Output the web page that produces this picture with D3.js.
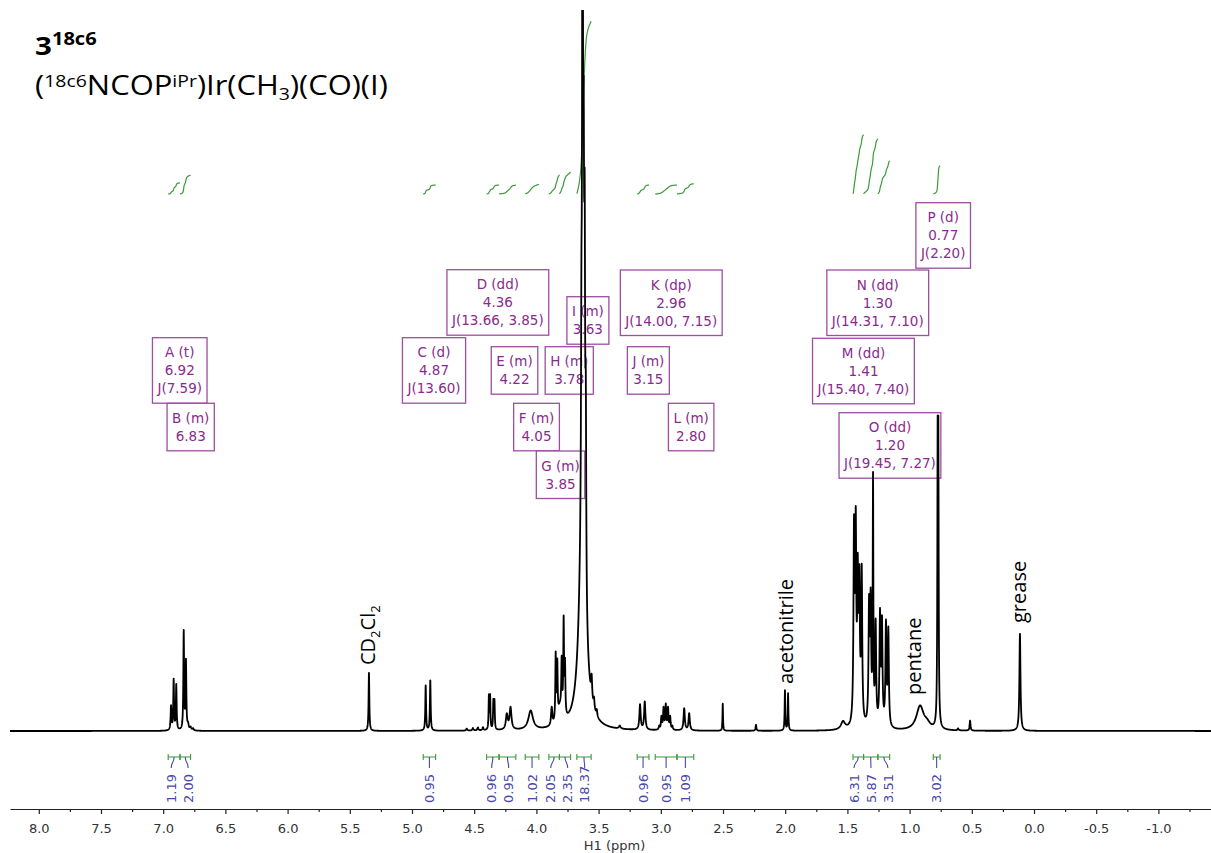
<!DOCTYPE html>
<html>
<head>
<meta charset="utf-8">
<script src="https://cdn.jsdelivr.net/npm/d3@7"></script>
<style>
  html, body { margin: 0; padding: 0; background: #fff; }
  svg { display: block; }
</style>
</head>
<body>
<svg id="chart" width="1211" height="853"></svg>
<script>
// ---------------- Data ----------------
// Resonance lines: chemical shift (ppm), height (intensity units), half-width at half-height (ppm)
const peakShift = [
  6.937, 6.916, 6.895, 6.835, 6.817, 6.800, 6.780, 6.760,
  5.346,
  4.890, 4.853,
  4.560, 4.510, 4.470, 4.430,
  4.382, 4.372, 4.346, 4.337,
  4.238, 4.208,
  4.046,
  3.877, 3.845, 3.832, 3.810,
  3.797, 3.781, 3.770,
  3.638, 3.629, 3.620, 3.612, 3.603, 3.630,
  3.556, 3.537, 3.515,
  3.330,
  3.167, 3.129,
  3.013, 2.995, 2.978, 2.960, 2.942, 2.925, 2.907,
  2.812, 2.772,
  2.502, 2.235,
  2.002, 1.977,
  1.535,
  1.447, 1.433, 1.417, 1.404, 1.385,
  1.326, 1.313, 1.294, 1.273,
  1.238, 1.222, 1.190, 1.171,
  0.916, 0.860,
  0.7745, 0.7690,
  0.610, 0.514, 0.113
];
const peakHeight = [
  24, 50, 45, 98, 68, 5, 3, 2,
  58,
  45, 50,
  2, 2.5, 3, 3,
  33, 33, 28, 28,
  15, 22,
  19,
  18, 66, 54, 17,
  50, 94, 50,
  170, 760, 300, 290, 170, 200,
  22, 10, 6,
  3,
  25, 28,
  3.5, 12.5, 21, 24, 21, 12.5, 3.5,
  22, 17,
  27, 6,
  40, 37,
  8,
  188, 185, 135, 130, 150,
  115, 118, 240, 100,
  108, 100, 100, 95,
  24, 5,
  255, 255,
  2, 10, 97
];
const peakWidth = [
  0.004, 0.0035, 0.0035, 0.0035, 0.0035, 0.006, 0.006, 0.006,
  0.0035,
  0.0035, 0.0035,
  0.005, 0.005, 0.005, 0.005,
  0.003, 0.003, 0.003, 0.003,
  0.009, 0.009,
  0.022,
  0.006, 0.0035, 0.0035, 0.02,
  0.0035, 0.0035, 0.0035,
  0.004, 0.0035, 0.004, 0.004, 0.004, 0.03,
  0.005, 0.005, 0.005,
  0.008,
  0.006, 0.006,
  0.0045, 0.0045, 0.0045, 0.0045, 0.0045, 0.0045, 0.0045,
  0.006, 0.006,
  0.0025, 0.004,
  0.003, 0.003,
  0.02,
  0.005, 0.005, 0.005, 0.005, 0.005,
  0.005, 0.005, 0.003, 0.005,
  0.005, 0.005, 0.005, 0.005,
  0.035, 0.03,
  0.003, 0.003,
  0.005, 0.004, 0.005
];

// Integration regions (ppm, left to right) and their integrals
const integralFrom  = [6.96, 6.865, 4.91, 4.40, 4.30, 4.09, 3.90, 3.815, 3.675, 3.19, 3.045, 2.87, 1.455, 1.37, 1.255, 0.81];
const integralTo    = [6.865, 6.78, 4.81, 4.30, 4.165, 3.98, 3.815, 3.725, 3.56, 3.095, 2.87, 2.735, 1.37, 1.255, 1.16, 0.755];
const integralValue = [1.19, 2.00, 0.95, 0.96, 0.95, 1.02, 2.05, 2.35, 18.37, 0.96, 0.95, 1.09, 6.31, 5.87, 3.51, 3.02];

// Multiplet analysis
const multipletName  = ["A", "B", "C", "D", "E", "F", "G", "H", "I", "J", "K", "L", "M", "N", "O", "P"];
const multipletType  = ["t", "m", "d", "dd", "m", "m", "m", "m", "m", "m", "dp", "m", "dd", "dd", "dd", "d"];
const multipletShift = [6.92, 6.83, 4.87, 4.36, 4.22, 4.05, 3.85, 3.78, 3.63, 3.15, 2.96, 2.80, 1.41, 1.30, 1.20, 0.77];
const multipletJ     = [[7.59], [], [13.60], [13.66, 3.85], [], [], [], [], [], [], [14.00, 7.15], [], [15.40, 7.40], [14.31, 7.10], [19.45, 7.27], [2.20]];

// Solvent / impurity labels
const solventNames = ["CD2Cl2", "acetonitrile", "pentane", "grease"];
const solventShift = [5.346, 1.990, 0.916, 0.113];

// Axis ticks
const majorTicks = [8.0, 7.5, 7.0, 6.5, 6.0, 5.5, 5.0, 4.5, 4.0, 3.5, 3.0, 2.5, 2.0, 1.5, 1.0, 0.5, 0.0, -0.5, -1.0];
const minorTicks = [7.75, 7.25, 6.75, 6.25, 5.75, 5.25, 4.75, 4.25, 3.75, 3.25, 2.75, 2.25, 1.75, 1.25, 0.75, 0.25, -0.25, -0.75, -1.25];

// ---------------- Layout ----------------
const W = 1211, H = 853;
const baseY = 731, axisY = 809;
const x = d3.scaleLinear().domain([8.2315, -1.4228]).range([10, 1211]);
const y = d3.scaleLinear().domain([0, 721]).range([baseY, 10]);
const yInt = d3.scaleLinear().domain([0, 20]).range([194, 194 - 188]);

// Annotation box placement: centre (ppm) and top edge
const boxPlacement = {
  A: [6.867, 337.7], B: [6.779, 403.3], C: [4.823, 337.7], D: [4.310, 269.7],
  E: [4.176, 346.7], F: [3.999, 403.3], G: [3.806, 451.0], H: [3.736, 346.7],
  I: [3.586, 296.7], J: [3.100, 346.7], K: [2.916, 270.0], L: [2.756, 403.3],
  M: [1.371, 338.3], N: [1.256, 270.0], O: [1.158, 412.7], P: [0.730, 202.7]
};
const solventBaseline = { "CD2Cl2": [375, 665], "acetonitrile": [793, 684], "pentane": [921, 695], "grease": [1026, 623] };

const svg = d3.select("#chart");
svg.append("rect").attr("width", W).attr("height", H).attr("fill", "#fff");

// Sum of Lorentzian lines
function intensity(p) {
  let s = 0;
  for (let i = 0; i < peakShift.length; i++) {
    const d = (p - peakShift[i]) / peakWidth[i];
    s += peakHeight[i] / (1 + d * d);
  }
  return s;
}

// ---------------- Title ----------------
const title1 = svg.append("text").attr("font-family", "Open Sans").attr("font-weight", "bold").attr("fill", "#000");
title1.append("tspan").attr("font-size", 25).text("3");
title1.append("tspan").attr("font-size", 17).attr("dy", -10).text("18c6");
const title2 = svg.append("text").attr("font-family", "Open Sans").attr("fill", "#000").attr("font-size", 27);
title2.append("tspan").text("(");
title2.append("tspan").attr("font-size", 17).attr("dy", -8).text("18c6");
title2.append("tspan").attr("dy", 8).text("NCOP");
title2.append("tspan").attr("font-size", 17).attr("dy", -8).text("iPr");
title2.append("tspan").attr("dy", 8).text(")Ir(CH");
title2.append("tspan").attr("font-size", 17).attr("dy", 5).text("3");
title2.append("tspan").attr("dy", -5).text(")(CO)(I)");
[[title1, 35, 55, 62], [title2, 35, 95, 353]].forEach(([t, tx, ty, tw]) => {
  const w = t.node().getBBox().width;
  t.attr("transform", `translate(${tx},${ty}) scale(${tw / w},1)`);
});

// ---------------- Integrals ----------------
const green = "#3a9a3a";
const intG = svg.append("g");
integralValue.forEach((v, k) => {
  const a = integralFrom[k], b = integralTo[k];
  const n = 120, pts = [];
  let cum = 0;
  for (let i = 0; i <= n; i++) {
    const p = a + (b - a) * i / n;
    cum += intensity(p);
    pts.push([p, cum]);
  }
  const total = cum;
  intG.append("path")
    .attr("d", d3.line().curve(d3.curveBasis)(pts.map(([p, c]) => [x(p), yInt(v * c / total)])))
    .attr("fill", "none").attr("stroke", green).attr("stroke-width", 1.2);
});

// Integration brackets and values
const brG = svg.append("g");
const bY = 757;
const centres = integralValue.map((v, k) => (x(integralFrom[k]) + x(integralTo[k])) / 2);
const lab = centres.slice();
for (let it = 0; it < 200; it++) {
  for (let i = 0; i < lab.length - 1; i++) {
    const gap = lab[i + 1] - lab[i];
    if (gap < 17) {
      const push = (17 - gap) / 2;
      lab[i] -= push; lab[i + 1] += push;
    }
  }
}
const intLabelColor = "#4848a8";
integralValue.forEach((v, k) => {
  const x1 = x(integralFrom[k]), x2 = x(integralTo[k]);
  brG.append("path")
    .attr("d", `M${x1},${bY}H${x2}M${x1},${bY - 3}V${bY + 3}M${x2},${bY - 3}V${bY + 3}`)
    .attr("stroke", green).attr("stroke-width", 1.1).attr("fill", "none");
  const cx = centres[k], lx = lab[k];
  brG.append("path")
    .attr("d", `M${cx},${bY}C${cx},${bY + 6} ${lx},${bY + 5} ${lx},${bY + 11}`)
    .attr("stroke", intLabelColor).attr("stroke-width", 1.1).attr("fill", "none");
  brG.append("text")
    .attr("transform", `translate(${lx + 4.7},803) rotate(-90)`)
    .attr("font-family", "DejaVu Sans").attr("font-size", 13)
    .attr("fill", intLabelColor)
    .text(v.toFixed(2));
});

// ---------------- Multiplet boxes ----------------
const boxG = svg.append("g");
multipletName.forEach((name, k) => {
  const lines = [`${name} (${multipletType[k]})`, multipletShift[k].toFixed(2)];
  if (multipletJ[k].length) lines.push("J(" + multipletJ[k].map(j => j.toFixed(2)).join(", ") + ")");
  const [cp, top] = boxPlacement[name];
  const cx = x(cp);
  const g = boxG.append("g");
  const rect = g.append("rect").attr("fill", "#fff").attr("stroke", "#9c4ea2").attr("stroke-width", 1.3);
  let maxW = 0;
  lines.forEach((t, i) => {
    const tx = g.append("text")
      .attr("x", cx).attr("y", top + 19.5 + 18 * i)
      .attr("text-anchor", "middle")
      .attr("font-family", "DejaVu Sans").attr("font-size", 13.5)
      .attr("fill", "#8a2a8c")
      .text(t);
    maxW = Math.max(maxW, tx.node().getComputedTextLength());
  });
  const bw = maxW + 10, bh = 11.5 + 18 * lines.length;
  rect.attr("x", cx - bw / 2).attr("y", top).attr("width", bw).attr("height", bh);
});

// ---------------- Solvent labels ----------------
const solvG = svg.append("g");
solventNames.forEach((s, k) => {
  const [bx, by] = solventBaseline[s];
  const t = solvG.append("text")
    .attr("transform", `translate(${bx},${by}) rotate(-90)`)
    .attr("font-family", "Open Sans").attr("font-size", 20).attr("fill", "#000");
  if (s === "CD2Cl2") {
    t.append("tspan").text("CD");
    t.append("tspan").attr("font-size", 13).attr("dy", 5).text("2");
    t.append("tspan").attr("dy", -5).text("Cl");
    t.append("tspan").attr("font-size", 13).attr("dy", 5).text("2");
  } else {
    t.text(s);
  }
});

// ---------------- Spectrum ----------------
svg.append("clipPath").attr("id", "plotClip")
  .append("rect").attr("x", 10).attr("y", 10).attr("width", W - 10).attr("height", H - 10);
const grid = d3.range(8.2315, -1.4228, -0.0012).concat(peakShift).sort((a, b) => b - a);
const spectrum = grid.map(p => ({ p, v: intensity(p) }));
svg.append("path")
  .attr("clip-path", "url(#plotClip)")
  .attr("d", d3.line().x(d => x(d.p)).y(d => y(d.v))(spectrum))
  .attr("fill", "none").attr("stroke", "#000").attr("stroke-width", 1.8)
  .attr("stroke-linejoin", "round");

// ---------------- Axis ----------------
const axisColor = "#222";
const axisG = svg.append("g").attr("transform", `translate(0,${axisY})`)
  .call(d3.axisBottom(x).tickValues(majorTicks).tickFormat(d => d.toFixed(1))
    .tickSize(5).tickSizeOuter(0).tickPadding(10));
axisG.select(".domain").attr("stroke", axisColor).attr("stroke-width", 1.2);
axisG.selectAll(".tick line").attr("stroke", axisColor).attr("stroke-width", 1.2);
axisG.selectAll(".tick text").attr("font-family", "DejaVu Sans").attr("font-size", 13).attr("fill", "#333");
const minorG = svg.append("g").attr("transform", `translate(0,${axisY})`)
  .call(d3.axisBottom(x).tickValues(minorTicks).tickFormat("").tickSize(3).tickSizeOuter(0));
minorG.select(".domain").remove();
minorG.selectAll(".tick line").attr("stroke", axisColor).attr("stroke-width", 1.2);

svg.append("text")
  .attr("x", (x.range()[0] + x.range()[1]) / 2 + 4).attr("y", 850)
  .attr("text-anchor", "middle")
  .attr("font-family", "DejaVu Sans").attr("font-size", 13).attr("fill", "#333")
  .text("H1 (ppm)");
</script>
</body>
</html>
